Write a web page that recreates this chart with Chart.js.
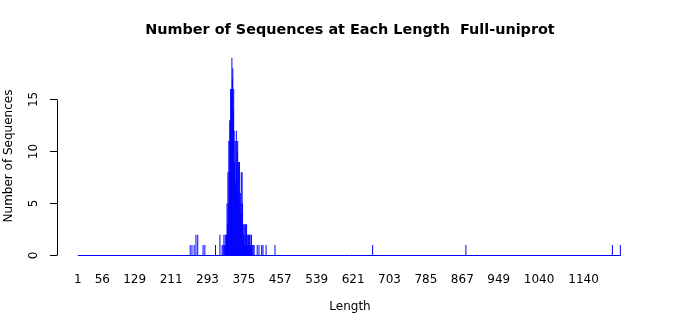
<!DOCTYPE html>
<html><head><meta charset="utf-8">
<script src="https://cdn.jsdelivr.net/npm/chart.js@4/dist/chart.umd.min.js"></script>
<style>html,body{margin:0;padding:0;background:#fff;}#wrap{width:700px;height:315px;position:relative;}</style>
</head><body><div id="wrap"><canvas id="c"></canvas></div>
<script>
// ---- data ----
const lengths = [254,258,263,267,271,283,287,311,321,326,328,330,331,333,334,335,336,337,338,339,340,341,342,343,344,345,346,347,348,349,350,351,352,353,354,355,356,357,358,359,360,361,362,363,364,365,366,367,368,369,370,371,372,373,374,375,376,377,378,379,380,381,382,383,384,385,386,387,388,390,391,392,394,396,398,405,409,415,418,425,445,665,875,1205,1223];
const counts  = [1,1,1,2,2,1,1,1,2,1,1,2,1,2,1,2,2,5,3,8,5,11,8,13,11,16,13,16,19,17,18,14,16,12,9,11,7,11,12,8,10,11,6,9,5,9,4,6,5,8,4,8,5,3,2,3,1,3,2,3,1,3,2,1,2,2,1,2,2,1,2,2,1,1,1,1,1,1,1,1,1,1,1,1,1];
const lengthRange = [1, 1224];
const xTickValues = [1,56,129,211,293,375,457,539,621,703,785,867,949,1040,1140];
const yTickValues = [0,5,10,15];
const titleText = 'Number of Sequences at Each Length  Full-uniprot';
const xTitle = 'Length';
const yTitle = 'Number of Sequences';

Chart.defaults.font.family = "'DejaVu Sans', sans-serif";
Chart.defaults.color = '#000';

const rAxisLine = {
  id: 'rAxisLine',
  afterDraw(chart) {
    const s = chart.scales.y, ctx = chart.ctx;
    const x = Math.round(s.right) + 0.5;
    const y0 = Math.round(s.getPixelForValue(yTickValues[0]) - 0.5) + 0.5;
    const y1 = Math.round(s.getPixelForValue(yTickValues[yTickValues.length - 1]) - 0.5) + 0.5;
    ctx.save();
    ctx.strokeStyle = '#000'; ctx.lineWidth = 1;
    ctx.beginPath(); ctx.moveTo(x, y0); ctx.lineTo(x, y1); ctx.stroke();
    ctx.restore();
  }
};

new Chart(document.getElementById('c'), {
  type: 'bar',
  data: {
    datasets: [
      {
        type: 'bar',
        data: lengths.map((l, i) => ({x: l, y: counts[i]})),
        backgroundColor: '#0000ff',
        borderWidth: 0,
        barThickness: 1,
        inflateAmount: 0
      },
      {
        type: 'line',
        data: lengthRange.map(l => ({x: l, y: 0})),
        borderColor: '#0000ff',
        borderWidth: 1,
        pointRadius: 0,
        fill: false
      }
    ]
  },
  options: {
    responsive: true,
    maintainAspectRatio: false,
    animation: false,
    layout: {padding: 0},
    plugins: {
      legend: {display: false},
      tooltip: {enabled: false},
      title: {
        display: true,
        text: titleText,
        font: {size: 14.4, weight: 'bold'},
        color: '#000',
        padding: {top: 21.4, bottom: 10.3}
      }
    },
    scales: {
      x: {
        type: 'linear',
        offset: false,
        min: -46, max: 1274,
        afterBuildTicks: s => { s.ticks = xTickValues.map(v => ({value: v})); },
        afterFit: s => { s.height = 52; },
        grid: {display: false, drawTicks: false, offset: false},
        border: {display: false},
        ticks: {autoSkip: false, maxRotation: 0, minRotation: 0, padding: 9.5, font: {size: 12}, color: '#000', callback: v => String(v)},
        title: {display: true, text: xTitle, font: {size: 12}, color: '#000', padding: {top: 0, bottom: 1}}
      },
      y: {
        type: 'linear',
        min: -0.721, max: 19.856,
        afterBuildTicks: s => { s.ticks = yTickValues.map(v => ({value: v})); },
        afterFit: s => { s.width = 57; },
        grid: {display: true, drawOnChartArea: false, drawTicks: true, tickLength: 7, color: '#000', lineWidth: 1},
        border: {display: false},
        ticks: {minRotation: 90, maxRotation: 90, crossAlign: 'center', padding: 8, font: {size: 12}, color: '#000', callback: v => String(v)},
        title: {display: true, text: yTitle, font: {size: 12}, color: '#000', padding: {top: 2, bottom: 0}}
      },
      yRight: {
        type: 'linear',
        position: 'right',
        display: true,
        afterFit: s => { s.width = 57; },
        grid: {display: false, drawTicks: false},
        border: {display: false},
        ticks: {display: false}
      }
    }
  },
  plugins: [rAxisLine]
});
</script>
</body></html>
